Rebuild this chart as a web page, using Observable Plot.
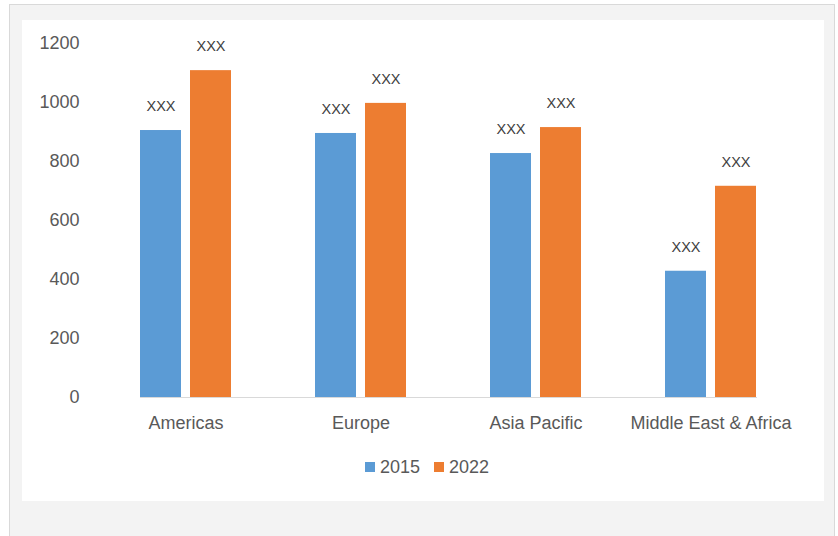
<!DOCTYPE html>
<html>
<head>
<meta charset="utf-8">
<script src="https://cdn.jsdelivr.net/npm/d3@7"></script>
<script src="https://cdn.jsdelivr.net/npm/@observablehq/plot@0.6"></script>
<style>
  html, body { margin: 0; padding: 0; background: #ffffff; width: 838px; height: 536px; overflow: hidden; }
  #outer { position: absolute; left: 9px; top: 4px; width: 826px; height: 540px; background: #f3f3f3; border: 1px solid #d9d9d9; box-sizing: border-box; }
  #inner { position: absolute; left: 22px; top: 20px; width: 802px; height: 481px; background: #ffffff; }
  #chart { position: absolute; left: 0; top: 0; }
  #legend { position: absolute; left: 0; top: 437px; width: 802px; height: 20px; display: flex; justify-content: center; align-items: center; padding-left: 8px; box-sizing: border-box;
            font-family: "Liberation Sans", Arial, sans-serif; font-size: 18px; color: #595959; }
  .item { display: flex; align-items: center; margin: 0 7px; }
  .sw { width: 10px; height: 10px; margin-right: 5px; }
</style>
</head>
<body>
<div id="outer"></div>
<div id="inner">
  <div id="chart"></div>
  <div id="legend"></div>
</div>
<script>
const regions = ["Americas", "Europe", "Asia Pacific", "Middle East & Africa"];
const years = ["2015", "2022"];
const values2015 = [905, 895, 827, 428];
const values2022 = [1108, 997, 915, 716];
const barLabels2015 = ["XXX", "XXX", "XXX", "XXX"];
const barLabels2022 = ["XXX", "XXX", "XXX", "XXX"];
const yTicks = [0, 200, 400, 600, 800, 1000, 1200];
const colors = ["#5b9bd5", "#ed7d31"];

const rows = regions.flatMap((region, i) => [
  {region, year: years[0], value: values2015[i], label: barLabels2015[i]},
  {region, year: years[1], value: values2022[i], label: barLabels2022[i]}
]);

const chart = Plot.plot({
  width: 802,
  height: 430,
  marginLeft: 75,
  marginRight: 24,
  marginTop: 23,
  marginBottom: 53,
  style: {fontFamily: "Liberation Sans, Arial, sans-serif", fontSize: "18px", color: "#595959", background: "transparent"},
  fx: {domain: regions, paddingInner: 0.478, paddingOuter: 0.239, label: null},
  x: {domain: years, paddingInner: 0.18, paddingOuter: 0, axis: null},
  y: {domain: [0, 1200], label: null},
  color: {domain: years, range: colors},
  marks: [
    Plot.frame({anchor: "bottom", stroke: "#d9d9d9", strokeWidth: 1, facet: "super"}),
    Plot.barY(rows, {fx: "region", x: "year", y: "value", fill: "year"}),
    Plot.text(rows, {fx: "region", x: "year", y: "value", text: "label", dy: -24, fontSize: 14.5, fill: "#404040"}),
    Plot.axisY({ticks: yTicks, tickFormat: d => String(d), tickSize: 0, tickPadding: 61, label: null, fill: "#595959", fontSize: 18}),
    Plot.axisFx({anchor: "bottom", tickSize: 0, tickPadding: 19, label: null, fill: "#595959", fontSize: 18})
  ]
});
document.getElementById("chart").appendChild(chart);

const legend = d3.select("#legend");
years.forEach((y, i) => {
  const item = legend.append("div").attr("class", "item");
  item.append("div").attr("class", "sw").style("background", colors[i]);
  item.append("span").text(y);
});
</script>
</body>
</html>
